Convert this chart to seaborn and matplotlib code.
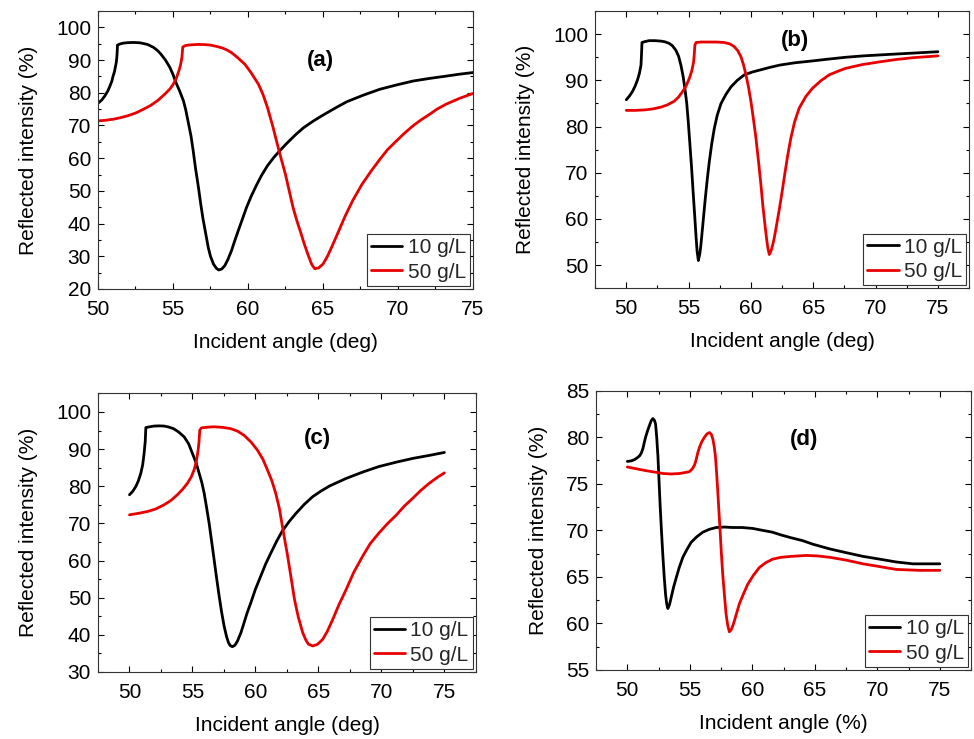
import numpy as np
import pandas as pd
import matplotlib
matplotlib.use("Agg")
import matplotlib.pyplot as plt
from matplotlib.ticker import MultipleLocator
import seaborn as sns

# values (angle in deg, reflected intensity in %)
a_ang_10 = [50.0, 50.25, 50.45, 50.65, 50.8, 50.92, 51.0, 51.1, 51.15, 51.22, 51.25, 51.28, 51.3, 51.5,
            51.7, 52.0, 52.4, 52.8, 53.3, 53.7, 54.0, 54.2, 54.5, 54.8, 55.0, 55.2, 55.45, 55.7, 55.85,
            56.0, 56.2, 56.35, 56.5, 56.7, 56.85, 57.0, 57.2, 57.35, 57.5, 57.7, 57.9, 58.05, 58.25,
            58.45, 58.65, 58.9, 59.1, 59.35, 59.6, 59.9, 60.2, 60.55, 60.9, 61.3, 61.7, 62.1, 62.6,
            63.2, 63.7, 64.3, 64.9, 65.5, 66.0, 66.6, 67.7, 68.8, 69.9, 71.0, 72.1, 73.2, 74.1, 75.0]
a_ref_10 = [76.8, 77.8, 79.0, 80.5, 82.1, 83.5, 85.0, 86.5, 87.7, 89.3, 90.5, 92.5, 94.6, 95.0,
            95.2, 95.35, 95.4, 95.3, 94.8, 93.9, 92.8, 91.8, 90.0, 87.7, 85.6, 83.1, 80.5, 77.5, 74.8,
            71.4, 66.8, 62.2, 57.0, 51.0, 46.0, 41.5, 36.5, 32.7, 30.0, 27.6, 26.3, 25.8, 26.1,
            27.1, 28.9, 31.7, 34.5, 37.8, 41.0, 44.9, 48.2, 51.6, 54.7, 57.7, 60.1, 62.2, 64.6,
            67.3, 69.3, 71.2, 72.9, 74.5, 75.8, 77.3, 79.3, 81.1, 82.4, 83.6, 84.4, 85.1, 85.7, 86.2]
a_ang_50 = [50.0, 50.5, 51.0, 51.5, 52.0, 52.5, 53.0, 53.5, 54.0, 54.5, 54.8, 55.0, 55.2, 55.3, 55.4,
            55.5, 55.55, 55.6, 55.65, 55.8, 56.0, 56.3, 56.7, 57.1, 57.5, 57.9, 58.3, 58.6, 58.9,
            59.3, 59.8, 60.2, 60.7, 61.0, 61.3, 61.65, 62.0, 62.25, 62.5, 62.75, 63.0, 63.25, 63.5,
            63.75, 64.0, 64.25, 64.45, 64.7, 65.0, 65.3, 65.6, 66.0, 66.5, 67.0, 67.6, 68.2, 68.8,
            69.3, 69.9, 70.4, 71.0, 71.5, 72.1, 72.6, 73.2, 74.1, 75.0]
a_ref_50 = [71.4, 71.6, 71.9, 72.4, 73.0, 73.8, 74.9, 76.1, 77.7, 79.8, 81.2, 82.5, 84.2, 85.5, 86.8,
            88.5, 89.6, 91.0, 94.0, 94.4, 94.6, 94.7, 94.8, 94.75, 94.6, 94.2, 93.7, 93.1, 92.3,
            90.8, 88.7, 86.2, 82.6, 79.5, 75.5, 69.8, 63.5, 59.2, 55.0, 50.0, 45.0, 41.0, 37.5,
            33.8, 30.5, 27.5, 26.2, 26.4, 27.6, 30.0, 33.0, 37.2, 42.5, 47.2, 52.0, 56.0, 59.7,
            62.6, 65.3, 67.5, 69.9, 71.6, 73.4, 75.0, 76.5, 78.3, 79.8]

b_ang_10 = [50.0, 50.25, 50.5, 50.7, 50.9, 51.05, 51.18, 51.22, 51.26, 51.5, 51.84, 52.3, 52.78, 53.1,
            53.45, 53.7, 53.98, 54.2, 54.38, 54.55, 54.7, 54.85, 54.97, 55.1, 55.24, 55.37, 55.5,
            55.6, 55.68, 55.78, 55.9, 55.97, 56.04, 56.2, 56.34, 56.5, 56.66, 56.85, 57.06, 57.3,
            57.6, 58.0, 58.4, 58.9, 59.47, 60.1, 60.8, 61.5, 62.3, 63.5, 64.9, 66.2, 67.6, 69.0,
            70.3, 71.6, 73.0, 75.0]
b_ref_10 = [85.8, 86.6, 87.6, 88.7, 90.1, 91.5, 93.3, 95.5, 98.2, 98.4, 98.6, 98.6, 98.5, 98.35,
            98.0, 97.5, 96.5, 95.2, 93.3, 91.0, 88.3, 85.0, 81.1, 76.3, 71.0, 65.5, 60.2,
            56.0, 53.0, 51.0, 52.5, 54.0, 55.9, 60.5, 64.5, 68.7, 72.4, 76.2, 79.6, 82.5,
            85.0, 87.0, 88.6, 90.0, 91.2, 91.8, 92.3, 92.8, 93.3, 93.8, 94.2, 94.6, 95.0, 95.3,
            95.5, 95.7, 95.9, 96.2]
b_ang_50 = [50.0, 50.7, 51.44, 52.1, 52.78, 53.3, 53.85, 54.2, 54.52, 54.8, 55.05, 55.25, 55.4, 55.45,
            55.5, 55.6, 56.0, 56.5, 57.2, 57.86, 58.3, 58.66, 58.95, 59.2, 59.4, 59.6, 59.8, 60.0,
            60.2, 60.4, 60.6, 60.8, 60.95, 61.12, 61.25, 61.35, 61.47, 61.6, 61.73, 61.87, 62.07,
            62.27, 62.5, 62.7, 62.95, 63.2, 63.5, 63.87, 64.4, 64.94, 65.6, 66.28, 67.0, 67.6, 68.9,
            70.3, 71.6, 72.97, 75.0]
b_ref_50 = [83.5, 83.5, 83.6, 83.8, 84.2, 84.7, 85.5, 86.4, 87.6, 88.8, 90.4, 92.0, 94.0, 95.5,
            97.6, 98.2, 98.3, 98.3, 98.3, 98.2, 97.9, 97.3, 96.4, 95.1, 93.4, 91.2, 88.6, 85.4,
            81.6, 77.5, 72.6, 67.4, 63.0, 58.8, 55.8, 53.8, 52.3, 53.0, 54.2, 55.9, 58.9,
            62.0, 65.9, 69.5, 73.8, 77.5, 81.0, 84.0, 86.5, 88.3, 89.9, 91.2, 92.0, 92.6, 93.4,
            94.0, 94.5, 94.9, 95.3]

c_ang_10 = [50.0, 50.25, 50.5, 50.7, 50.9, 51.05, 51.16, 51.25, 51.3, 51.6, 51.96, 52.35, 52.75, 53.1,
            53.5, 53.9, 54.34, 54.7, 55.0, 55.3, 55.53, 55.75, 55.93, 56.12, 56.32, 56.52, 56.72,
            56.92, 57.12, 57.32, 57.51, 57.7, 57.86, 58.0, 58.17, 58.37, 58.57, 58.85, 59.1, 59.35,
            59.63, 60.0, 60.42, 60.8, 61.22, 61.7, 62.14, 62.7, 63.22, 63.9, 64.55, 65.2, 65.9,
            67.2, 68.5, 69.8, 71.2, 72.5, 73.8, 75.0]
c_ref_10 = [77.7, 78.6, 79.9, 81.4, 83.5, 85.8, 88.8, 92.0, 95.8, 96.0, 96.2, 96.25, 96.2, 95.95,
            95.5, 94.6, 93.3, 91.4, 88.8, 86.2, 83.5, 80.9, 78.1, 74.3, 70.1, 65.2, 60.2,
            55.2, 50.4, 46.0, 42.4, 39.6, 37.9, 37.1, 36.8, 37.2, 38.3, 40.6, 43.3, 46.0,
            48.6, 52.3, 55.8, 59.0, 62.0, 65.3, 68.0, 70.6, 72.7, 75.2, 77.2, 78.7, 80.1,
            82.1, 83.8, 85.3, 86.5, 87.5, 88.3, 89.1]
c_ang_50 = [50.0, 50.7, 51.43, 52.1, 52.75, 53.3, 53.8, 54.2, 54.6, 54.9, 55.13, 55.3, 55.45, 55.52,
            55.58, 55.71, 56.2, 56.72, 57.4, 58.04, 58.6, 59.1, 59.65, 60.16, 60.6, 60.95, 61.3,
            61.61, 61.9, 62.14, 62.34, 62.54, 62.8, 63.1, 63.4, 63.75, 64.0, 64.2, 64.55, 64.9,
            65.1, 65.34, 65.7, 66.13, 66.6, 67.2, 67.8, 68.5, 69.1, 69.8, 70.5, 71.2, 71.8, 72.5,
            73.1, 73.8, 74.4, 75.0]
c_ref_50 = [72.3, 72.7, 73.2, 73.9, 75.0, 76.2, 77.7, 79.1, 80.8, 82.5, 84.4, 86.5, 89.7, 92.0,
            95.1, 95.7, 95.9, 96.0, 95.85, 95.5, 94.8, 93.7, 91.9, 89.7, 87.2, 84.4, 81.5,
            78.1, 74.0, 69.2, 65.3, 61.5, 56.0, 49.5, 44.8, 40.6, 38.6, 37.5, 37.0, 37.4,
            38.0, 38.8, 40.9, 44.1, 47.9, 52.2, 56.8, 61.1, 64.5, 67.4, 70.0, 72.3, 74.6, 76.8,
            78.8, 80.8, 82.3, 83.6]

d_ang_10 = [50.0, 50.3, 50.59, 50.8, 50.98, 51.12, 51.25, 51.35, 51.46, 51.62, 51.78, 51.92, 52.05,
            52.17, 52.26, 52.35, 52.45, 52.54, 52.63, 52.74, 52.85, 52.95, 53.06, 53.15, 53.24,
            53.37, 53.51, 53.7, 53.91, 54.15, 54.44, 54.75, 55.1, 55.55, 56.04, 56.55, 57.1, 57.75,
            58.43, 59.2, 60.03, 60.8, 61.6, 62.3, 63.1, 64.0, 64.86, 66.2, 67.5, 68.85, 70.2, 71.5,
            72.84, 75.0]
d_ref_10 = [77.4, 77.45, 77.6, 77.8, 78.0, 78.3, 78.8, 79.4, 80.0, 80.7, 81.3, 81.8, 82.0,
            81.8, 81.4, 80.0, 77.9, 75.2, 72.5, 69.7, 67.1, 65.0, 63.1, 62.1, 61.6,
            62.0, 62.8, 63.9, 64.9, 66.0, 67.1, 67.9, 68.7, 69.3, 69.8, 70.1, 70.3, 70.35,
            70.3, 70.3, 70.2, 70.0, 69.8, 69.5, 69.2, 68.9, 68.5, 68.0, 67.6, 67.2, 66.9, 66.6,
            66.4, 66.4]
d_ang_50 = [50.0, 50.75, 51.52, 52.2, 52.85, 53.5, 54.18, 54.6, 54.97, 55.2, 55.37, 55.47, 55.56,
            55.65, 55.77, 55.95, 56.17, 56.37, 56.57, 56.72, 56.84, 56.95, 57.05, 57.14, 57.23,
            57.32, 57.42, 57.52, 57.63, 57.77, 57.9, 58.03, 58.16, 58.3, 58.48, 58.7, 58.96, 59.3,
            59.63, 60.1, 60.56, 61.05, 61.62, 62.3, 63.1, 64.3, 65.2, 66.2, 67.5, 68.85, 70.2, 71.5,
            72.4, 73.37, 75.0]
d_ref_50 = [76.8, 76.6, 76.4, 76.25, 76.1, 76.05, 76.1, 76.2, 76.3, 76.6, 77.0, 77.4, 77.9,
            78.4, 78.9, 79.5, 80.0, 80.35, 80.5, 80.3, 79.8, 79.0, 77.9, 76.2, 74.3,
            72.2, 70.0, 67.6, 65.3, 63.0, 61.0, 59.8, 59.1, 59.3, 59.9, 60.9, 62.1, 63.2,
            64.2, 65.2, 66.0, 66.5, 66.9, 67.1, 67.2, 67.3, 67.25, 67.1, 66.8, 66.4, 66.1, 65.8,
            65.75, 65.7, 65.7]

conc_labels = ["10 g/L", "50 g/L"]
panel_tags = ["(a)", "(b)", "(c)", "(d)"]

sns.set_theme(style="ticks")
plt.rcParams['font.family'] = ['Liberation Sans', 'DejaVu Sans']
plt.rcParams['axes.linewidth'] = 0.8

red = "#e80000"
palette = {"10 g/L": "black", "50 g/L": red}

fig = plt.figure(figsize=(9.74, 7.39), dpi=100)

panels = [
    # data, axes rect, xlim, ylim, y step, tag position, xlabel
    ((a_ang_10, a_ref_10, a_ang_50, a_ref_50), [0.1006, 0.609, 0.385, 0.376], (50, 75), (20, 105), 10,
     (64.8, 90), "Incident angle (deg)"),
    ((b_ang_10, b_ref_10, b_ang_50, b_ref_50), [0.611, 0.610, 0.384, 0.375], (47.5, 77.5), (45, 105), 10,
     (63.5, 98.7), "Incident angle (deg)"),
    ((c_ang_10, c_ref_10, c_ang_50, c_ref_50), [0.1006, 0.0907, 0.388, 0.377], (47.5, 77.5), (30, 105), 10,
     (64.9, 92.9), "Incident angle (deg)"),
    ((d_ang_10, d_ref_10, d_ang_50, d_ref_50), [0.612, 0.0934, 0.385, 0.378], (47.5, 77.5), (55, 85), 5,
     (64.1, 79.7), "Incident angle (%)"),
]

for i, (data, rect, xlim, ylim, ystep, tagpos, xlabel) in enumerate(panels):
    ax = fig.add_axes(rect)
    x10, y10, x50, y50 = data
    df = pd.DataFrame({
        "angle": list(x10) + list(x50),
        "refl": list(y10) + list(y50),
        "conc": [conc_labels[0]] * len(x10) + [conc_labels[1]] * len(x50),
    })
    sns.lineplot(data=df, x="angle", y="refl", hue="conc", palette=palette,
                 estimator=None, sort=False, linewidth=2.0, ax=ax)
    ax.set_xlim(*xlim)
    ax.set_ylim(*ylim)
    ax.xaxis.set_major_locator(MultipleLocator(5))
    ax.xaxis.set_minor_locator(MultipleLocator(2.5))
    ax.yaxis.set_major_locator(MultipleLocator(ystep))
    ax.yaxis.set_minor_locator(MultipleLocator(ystep / 2))
    ax.tick_params(which="both", direction="in", top=True, right=True, colors="black",
                   labelsize=15, width=0.8)
    ax.tick_params(axis="x", which="both", pad=8)
    ax.tick_params(axis="y", which="both", pad=5)
    ax.tick_params(which="major", length=4)
    ax.tick_params(which="minor", length=2.5)
    for sp in ax.spines.values():
        sp.set_color("#333333")
    ax.set_xlabel(xlabel, fontsize=15, color="black", labelpad=10)
    ax.set_ylabel("Reflected intensity (%)", fontsize=15, color="black", labelpad=13)
    ax.text(tagpos[0], tagpos[1], panel_tags[i], fontsize=16, fontweight="bold",
            ha="center", va="center", color="black")
    leg = ax.legend(loc="lower right", fontsize=15, frameon=True, fancybox=False,
                    handlelength=1.5, handletextpad=0.25, labelspacing=0.25,
                    borderpad=0.2, borderaxespad=0.15, framealpha=1)
    leg.get_frame().set_edgecolor("#333333")
    leg.get_frame().set_linewidth(0.8)
    for line in leg.get_lines():
        line.set_linewidth(2.0)

fig.savefig("out.png", dpi=100)
